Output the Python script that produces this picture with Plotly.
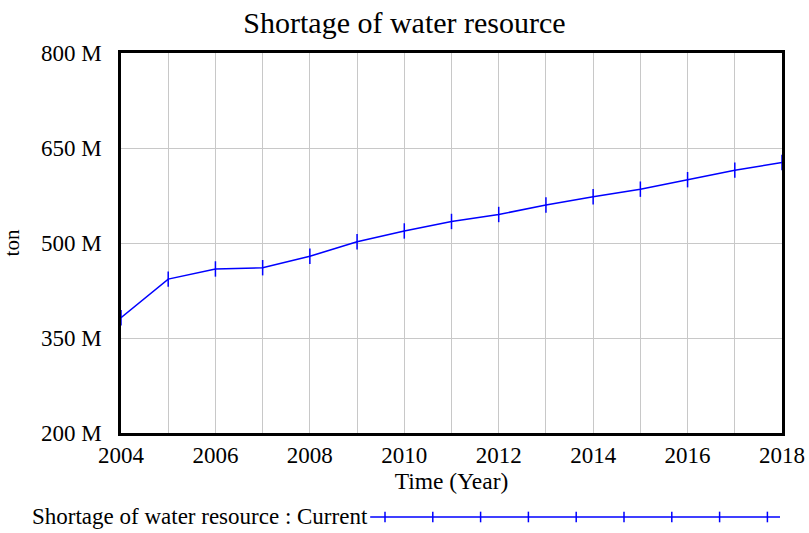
import plotly.graph_objects as go

years = list(range(2004, 2019))
shortage = [382e6, 443e6, 459e6, 461e6, 479e6, 502e6, 519e6, 534e6, 545e6,
            560e6, 573e6, 585e6, 600e6, 615e6, 627e6]
y_tickvals = [200e6, 350e6, 500e6, 650e6, 800e6]
y_ticktext = ["200 M", "350 M", "500 M", "650 M", "800 M"]
x_tickvals = list(range(2004, 2019, 2))
legend_label = "Shortage of water resource : Current"

FONT = "Liberation Serif, Times New Roman, serif"
BLUE = "#0000ff"

fig = go.Figure()
fig.add_trace(go.Scatter(
    x=years, y=shortage, mode="lines+markers",
    line=dict(color=BLUE, width=1.5),
    marker=dict(symbol="line-ns", size=11, line=dict(color=BLUE, width=1.5)),
    showlegend=False, hoverinfo="x+y",
))

fig.update_layout(
    width=809, height=533,
    margin=dict(l=121, r=27, t=53, b=100),
    paper_bgcolor="white", plot_bgcolor="white",
    font=dict(family=FONT, color="black", size=23),
    title=dict(text="Shortage of water resource", x=0.5, xanchor="center",
               y=0.977, yanchor="top", font=dict(size=30, family=FONT)),
    xaxis=dict(range=[2004, 2018], tickvals=x_tickvals, showgrid=True,
               gridcolor="#c8c8c8", gridwidth=1, automargin=False,
               minor=dict(dtick=1, showgrid=True, gridcolor="#c8c8c8", gridwidth=1),
               showline=True, mirror=True, linecolor="black", linewidth=2.5,
               ticks="", zeroline=False, ticklabelstandoff=0,
               title=dict(text="Time (Year)", font=dict(size=23.5), standoff=4),
               tickfont=dict(size=23)),
    yaxis=dict(range=[200e6, 800e6], tickvals=y_tickvals, ticktext=y_ticktext,
               showgrid=True, gridcolor="#c8c8c8", gridwidth=1, automargin=False,
               showline=True, mirror=True, linecolor="black", linewidth=2.5,
               ticks="", zeroline=False, ticklabelstandoff=12,
               title=dict(text="ton", font=dict(size=21), standoff=20),
               tickfont=dict(size=23)),
)

# legend drawn manually (Vensim style: label left, sample line right)
leg_y = -0.221
x0, x1 = 0.377, 0.997
fig.add_annotation(text=legend_label, xref="paper", yref="paper", x=x0, y=leg_y,
                   xanchor="right", yanchor="middle", showarrow=False,
                   font=dict(size=23, family=FONT))
fig.add_shape(type="line", xref="paper", yref="paper", x0=x0, x1=x1,
              y0=leg_y, y1=leg_y, line=dict(color=BLUE, width=1.5))
for i in range(9):
    xp = (385 + i * 47.8 - 121) / 661
    fig.add_shape(type="line", xref="paper", yref="paper", x0=xp, x1=xp,
                  y0=leg_y - 0.014, y1=leg_y + 0.014, line=dict(color=BLUE, width=1.5))

fig.write_html("out.html", post_script="document.body.style.margin='0';",
               config={"displayModeBar": False})
